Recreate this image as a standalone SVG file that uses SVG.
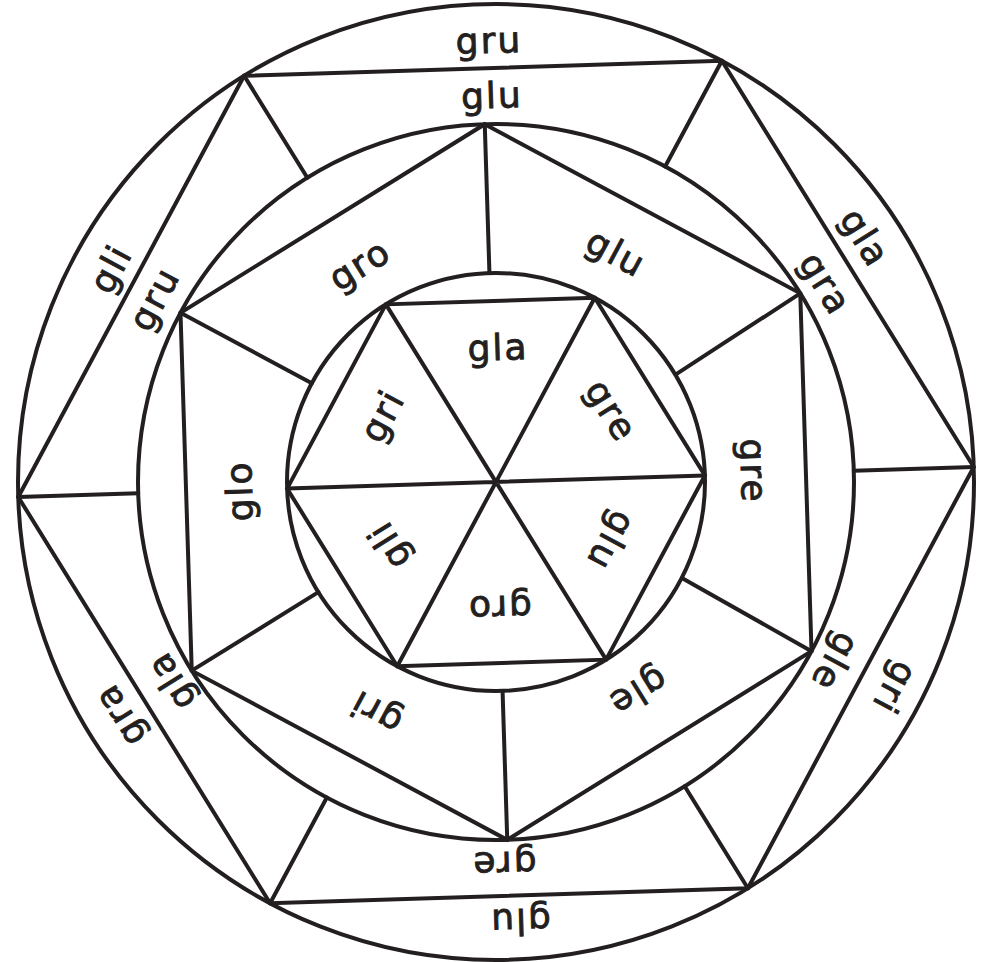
<svg xmlns="http://www.w3.org/2000/svg" width="989" height="962" viewBox="0 0 989 962">
<style>
.ln{fill:none;stroke:#231f20;stroke-width:4;stroke-linejoin:miter;stroke-linecap:round}
.t{font-family:"DejaVu Sans","Liberation Sans",sans-serif;font-size:36px;fill:#231f20;stroke:#231f20;stroke-width:0.9px;text-anchor:middle;letter-spacing:2px}
</style>
<rect width="989" height="962" fill="#fff"/>
<g id="circles" class="ln">
<circle cx="496" cy="482" r="478"/>
<circle cx="496" cy="482" r="358"/>
<circle cx="496" cy="482" r="209"/>
</g>
<g id="outer-hexagon" class="ln">
<polygon points="973.76,466.99 747.88,888.25 270.12,903.26 18.24,497.01 244.12,75.75 721.88,60.74"/>
<path d="M973.76,466.99 L853.82,470.75 M747.88,888.25 L684.65,786.26 M270.12,903.26 L326.83,797.51 M18.24,497.01 L138.18,493.25 M244.12,75.75 L307.35,177.74 M721.88,60.74 L665.17,166.49"/>
</g>
<g id="middle-hexagon" class="ln">
<polygon points="484.75,124.18 800.26,293.35 811.51,651.17 507.25,839.82 191.74,670.65 180.49,312.83"/>
<path d="M484.75,124.18 L489.44,273.10 M800.26,293.35 L676.63,373.87 M811.51,651.17 L683.19,578.76 M507.25,839.82 L502.56,690.90 M191.74,670.65 L318.37,592.13 M180.49,312.83 L311.81,383.24"/>
</g>
<g id="inner-hexagon" class="ln">
<polygon points="704.90,475.44 606.13,659.63 397.24,666.19 287.10,488.56 385.87,304.37 594.76,297.81"/>
<path d="M704.90,475.44 L287.10,488.56 M606.13,659.63 L385.87,304.37 M397.24,666.19 L594.76,297.81"/>
</g>
<g id="outer-ring-labels">
<text class="t" transform="translate(489,43) rotate(-1.8)" y="10">gru</text>
<text class="t" transform="translate(863,239) rotate(58.2)" y="10">gla</text>
<text class="t" transform="translate(892.6,686.8) rotate(118.2)" y="10">gri</text>
<text class="t" transform="translate(520,919) rotate(178.2)" y="10">glu</text>
<text class="t" transform="translate(121.6,714) rotate(238.2)" y="10">gra</text>
<text class="t" transform="translate(113,270) rotate(298.2)" y="10">gli</text>
</g>
<g id="middle-outer-labels">
<text class="t" transform="translate(492,98) rotate(-1.8)" y="10">glu</text>
<text class="t" transform="translate(823.4,284.9) rotate(58.2)" y="10">gra</text>
<text class="t" transform="translate(833,661) rotate(118.2)" y="10">gle</text>
<text class="t" transform="translate(504,862) rotate(178.2)" y="10">gre</text>
<text class="t" transform="translate(173,680) rotate(238.2)" y="10">gla</text>
<text class="t" transform="translate(156.5,300) rotate(298.2)" y="10">gru</text>
</g>
<g id="middle-inner-labels">
<text class="t" transform="translate(751,471) rotate(88.2)" y="10">gre</text>
<text class="t" transform="translate(637,690) rotate(148.2)" y="10">gle</text>
<text class="t" transform="translate(377,710.5) rotate(208.2)" y="10">gri</text>
<text class="t" transform="translate(242,491) rotate(268.2)" y="10">glo</text>
<text class="t" transform="translate(361,266.6) rotate(328.2)" y="10">gro</text>
<text class="t" transform="translate(615,255) rotate(28.2)" y="10">glu</text>
</g>
<g id="inner-labels">
<text class="t" transform="translate(498,350) rotate(-1.8)" y="10">gla</text>
<text class="t" transform="translate(609.4,411.9) rotate(58.2)" y="10">gre</text>
<text class="t" transform="translate(609,540) rotate(118.2)" y="10">glu</text>
<text class="t" transform="translate(499.5,606) rotate(178.2)" y="10">gro</text>
<text class="t" transform="translate(391,544) rotate(238.2)" y="10">gli</text>
<text class="t" transform="translate(384.5,417) rotate(298.2)" y="10">gri</text>
</g>
</svg>
